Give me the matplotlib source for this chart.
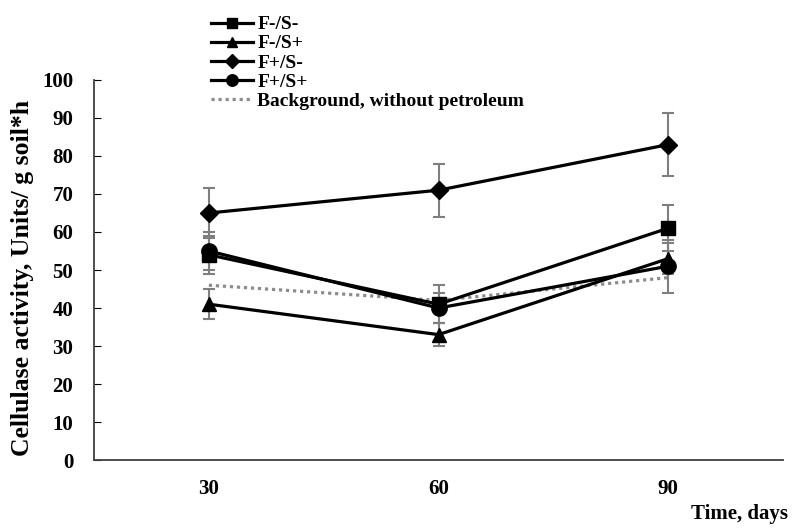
import numpy as np
import matplotlib
matplotlib.use('Agg')
import matplotlib.pyplot as plt

plt.rcParams['font.family'] = ['Liberation Serif', 'DejaVu Serif']
plt.rcParams['font.weight'] = 'bold'

# data
days = ['30', '60', '90']
fs_mm = [54, 41, 61]
fs_mm_err = [5, 5, 6]
fs_mp = [41, 33, 53]
fs_mp_err = [4, 3, 4]
fs_pm = [65, 71, 83]
fs_pm_err = [6.5, 7, 8.3]
fs_pp = [55, 40, 51]
fs_pp_err = [5, 4, 7]
background = [46, 42, 48]

x = np.arange(1, len(days) + 1)

fig = plt.figure(figsize=(7.92, 5.29), dpi=100)
ax = fig.add_axes([0.1187, 0.1304, 0.87, 0.7184])

ekw = dict(ecolor='#7f7f7f', elinewidth=1.5, capsize=4, capthick=1.5)
c1 = ax.errorbar(x, fs_mm, yerr=fs_mm_err, color='black', lw=2.3, marker='s', ms=10, **ekw)
c2 = ax.errorbar(x, fs_mp, yerr=fs_mp_err, color='black', lw=2.3, marker='^', ms=10, **ekw)
c3 = ax.errorbar(x, fs_pm, yerr=fs_pm_err, color='black', lw=2.3, marker='D', ms=9, **ekw)
c4 = ax.errorbar(x, fs_pp, yerr=fs_pp_err, color='black', lw=2.3, marker='o', ms=11, **ekw)
bg, = ax.plot(x, background, color='#8c8c8c', lw=2.3, ls=(0, (1, 1.2)))

ax.set_xlim(0.5, 3.5)
ax.set_ylim(0, 100)
ax.set_yticks(np.arange(0, 101, 10))
ax.set_xticks(x)
ax.set_xticklabels(days)
ax.tick_params(axis='y', direction='in', length=5, labelsize=15, pad=15)
ax.tick_params(axis='x', length=0, labelsize=15, pad=14)
for lab in ax.get_xticklabels() + ax.get_yticklabels():
    lab.set_fontweight('bold')

for s in ['top', 'right']:
    ax.spines[s].set_visible(False)
for s in ['left', 'bottom']:
    ax.spines[s].set_color('#404040')
    ax.spines[s].set_linewidth(1.3)

fig.text(0.029, 0.474, 'Cellulase activity, Units/ g soil*h', rotation=90,
         ha='center', va='center', fontsize=18.5, fontweight='bold')
fig.text(0.995, 0.01, 'Time, days', ha='right', va='bottom', fontsize=15, fontweight='bold')

handles = [c1.lines[0], c2.lines[0], c3.lines[0], c4.lines[0], bg]
labels = ['F-/S-', 'F-/S+', 'F+/S-', 'F+/S+', 'Background, without petroleum']
leg = fig.legend(handles, labels, loc='upper left', bbox_to_anchor=(0.256, 0.985),
                 frameon=False, fontsize=14, handlelength=2.2, handletextpad=0.2,
                 labelspacing=0.08, borderaxespad=0, markerscale=0.75)
for t in leg.get_texts():
    t.set_fontweight('bold')

fig.savefig('out.png', dpi=100)
